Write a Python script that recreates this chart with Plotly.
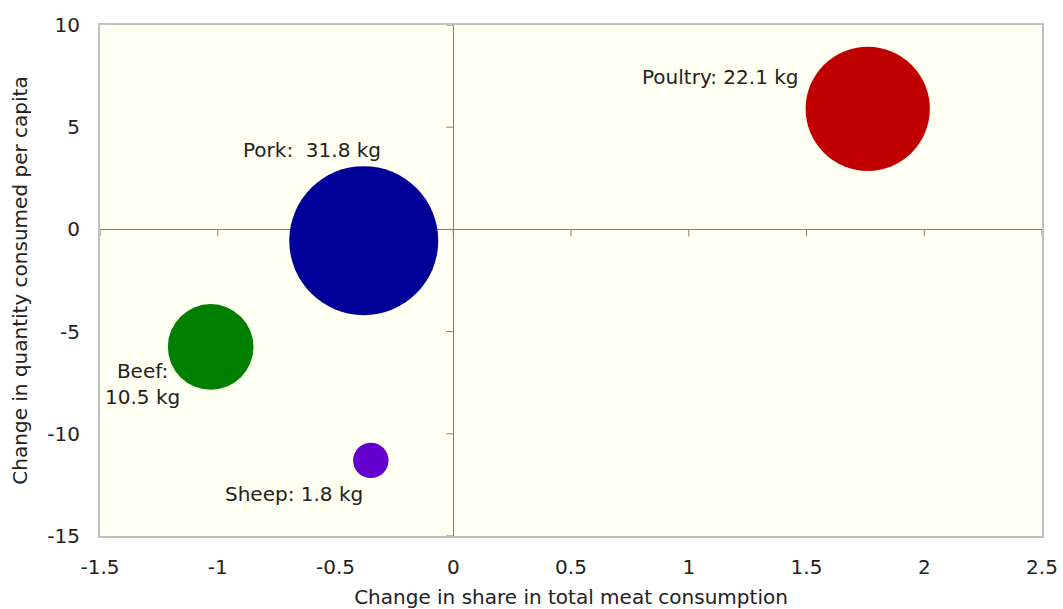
import plotly.graph_objects as go

# Data
meats = ["Poultry", "Pork", "Beef", "Sheep"]
share_change = [1.76, -0.38, -1.03, -0.35]
qty_change = [5.9, -0.55, -5.75, -11.3]
kg_per_capita = [22.1, 31.8, 10.5, 1.8]
colors = ["#C00000", "#000099", "#008000", "#6600CC"]
label_texts = ["Poultry: 22.1 kg", "Pork:  31.8 kg", "Beef:<br>10.5 kg", "Sheep: 1.8 kg"]
label_x = [1.135, -0.60, -1.32, -0.675]
label_y = [7.45, 3.9, -7.55, -12.95]

x_ticks = [-1.5, -1, -0.5, 0, 0.5, 1, 1.5, 2, 2.5]
x_tick_text = ["-1.5", "-1", "-0.5", "0", "0.5", "1", "1.5", "2", "2.5"]
y_ticks = [-15, -10, -5, 0, 5, 10]
y_tick_text = ["-15", "-10", "-5", "0", "5", "10"]

FONT = "DejaVu Sans, Verdana, sans-serif"
FS = 20
max_d = 149
sizeref = 2.0 * max(kg_per_capita) / (max_d ** 2)

fig = go.Figure()
fig.add_trace(go.Scatter(
    x=share_change, y=qty_change, mode="markers",
    marker=dict(size=kg_per_capita, sizemode="area", sizeref=sizeref,
                color=colors, opacity=1, line=dict(width=0)),
    text=meats, hoverinfo="text", showlegend=False,
))

for t, lx, ly in zip(label_texts, label_x, label_y):
    fig.add_annotation(x=lx, y=ly, text=t, showarrow=False,
                       font=dict(family=FONT, size=FS, color="#222222"),
                       xanchor="center", yanchor="middle", align="center")

# tick marks on the zero lines
shapes = []
for xv in x_ticks:
    shapes.append(dict(type="line", xref="x", yref="y", x0=xv, x1=xv, layer="below",
                       ysizemode="pixel", yanchor=0, y0=0, y1=-7,
                       line=dict(color="#808080", width=1)))
for yv in y_ticks:
    shapes.append(dict(type="line", xref="x", yref="y", y0=yv, y1=yv, layer="below",
                       xsizemode="pixel", xanchor=0, x0=0, x1=-7,
                       line=dict(color="#808080", width=1)))

fig.update_layout(
    width=1063, height=609,
    margin=dict(l=100, r=21, t=25, b=73, autoexpand=False),
    paper_bgcolor="white",
    plot_bgcolor="#FFFFF2",
    font=dict(family=FONT, size=FS, color="#222222"),
    shapes=shapes,
    xaxis=dict(range=[-1.5, 2.5], tickvals=x_ticks, ticktext=x_tick_text,
               automargin=False,
               showgrid=False, zeroline=True, zerolinecolor="#808080", zerolinewidth=1,
               showline=True, mirror=True, linecolor="#C0C0C0", linewidth=2,
               ticks="outside", ticklen=12, tickcolor="rgba(0,0,0,0)",
               tickfont=dict(size=FS),
               title=dict(text="Change in share in total meat consumption", standoff=12,
                          font=dict(size=FS))),
    yaxis=dict(range=[-15, 10], tickvals=y_ticks, ticktext=y_tick_text,
               automargin=False,
               showgrid=False, zeroline=True, zerolinecolor="#808080", zerolinewidth=1,
               showline=True, mirror=True, linecolor="#C0C0C0", linewidth=2,
               ticks="outside", ticklen=14, tickcolor="rgba(0,0,0,0)",
               tickfont=dict(size=FS),
               title=dict(text="Change in quantity consumed per capita", standoff=14,
                          font=dict(size=FS))),
)

fig.write_html("out.html")
